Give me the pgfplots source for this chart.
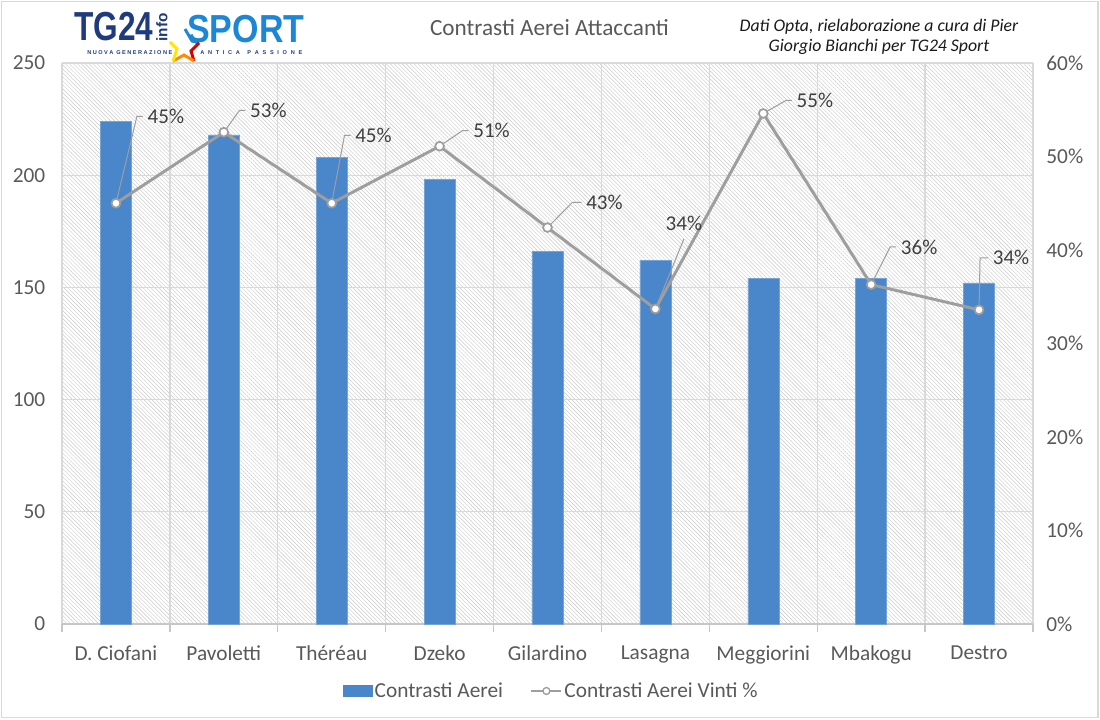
\documentclass[border=0pt]{standalone}
\usepackage{pgfplots}
\pgfplotsset{compat=1.18}
\usepackage{fontspec}
\setmainfont{Carlito}
\newfontfamily\logofont{Liberation Sans}
\usetikzlibrary{patterns.meta}
\definecolor{barblue}{HTML}{4A86CA}
\definecolor{linegray}{HTML}{9E9E9E}
\definecolor{gridgray}{HTML}{D9D9D9}
\definecolor{tickgray}{HTML}{595959}
\definecolor{labgray}{HTML}{404040}
\definecolor{hatchgray}{HTML}{C8C8C8}
\definecolor{navy}{HTML}{1F3B7E}
\definecolor{sportblue}{HTML}{1B87D6}
% pixel coordinates measured from the bottom-left corner (1px = 0.75pt)
\newcommand\px[2]{(#1*0.75pt,#2*0.75pt)}
\newcommand\dlab[6]{\draw[leader] (axis cs:#1,#2) -- ++(#3*0.75pt,#4*0.75pt) -- ++(#5*0.75pt,0pt) node[dlabel,anchor=west]{#6};}
\newcommand\spread[2]{\makebox[#1][s]{#2}}
\begin{document}
\begin{tikzpicture}[
  leader/.style={draw=linegray,line width=0.75pt},
  dlabel/.style={inner sep=0pt,xshift=3.2pt,text=labgray,font=\fontsize{15.8}{18}\selectfont}]
\path[use as bounding box] \px{0}{0} rectangle \px{1100}{719};
\draw[gridgray,line width=1.2pt] \px{1.5}{1.5} rectangle \px{1098}{717.5};
% ---------- bars axis ----------
\begin{axis}[
  name=main,
  at={(46.5pt,71.25pt)}, anchor=south west, scale only axis,
  width=728.25pt, height=420.75pt,
  xmin=-0.5, xmax=8.5, ymin=0, ymax=250,
  axis background/.style={fill=white,postaction={pattern={Lines[angle=-45,distance=2.1pt,line width=0.32pt]},pattern color=hatchgray}},
  axis x line*=bottom, axis y line*=left,
  x axis line style={draw=gridgray!80!gray,line width=1pt},
  y axis line style={draw=none},
  xtick={0,...,8},
  xticklabels={D. Ciofani,Pavoletti,Théréau,Dzeko,Gilardino,Lasagna,Meggiorini,Mbakogu,Destro},
  minor xtick={-0.5,0.5,...,8.5},
  ytick={0,50,...,250},
  xminorgrids, ymajorgrids,
  grid style={draw=gridgray,line width=1pt},
  minor grid style={draw=gridgray,line width=1pt},
  major tick length=0pt, minor tick length=6pt, tick align=outside,
  every minor tick/.style={draw=gridgray!80!gray,line width=1pt},
  ytick style={draw=none},
  /pgf/number format/assume math mode=true,
  tick label style={font=\fontsize{16}{19}\selectfont,text=tickgray},
  yticklabel style={xshift=-9pt},
  xticklabel style={yshift=-13pt},
]
\addplot[ybar,bar width=23.25pt,fill=barblue,draw=barblue!75!white,line width=0.4pt]
  coordinates {(0,224) (1,218) (2,208) (3,198) (4,166) (5,162) (6,154) (7,154) (8,152)};
\end{axis}
% ---------- percent axis ----------
\begin{axis}[
  at={(main.south west)}, anchor=south west, scale only axis,
  width=728.25pt, height=420.75pt,
  xmin=-0.5, xmax=8.5, ymin=0, ymax=60,
  axis x line=none, axis y line*=right,
  y axis line style={draw=none},
  xtick=\empty,
  ytick={0,10,...,60},
  ytick style={draw=none},
  major tick length=0pt,
  /pgf/number format/assume math mode=true,
  yticklabel={\pgfmathprintnumber{\tick}\%},
  tick label style={font=\fontsize{16}{19}\selectfont,text=tickgray},
  yticklabel style={xshift=6.5pt},
  clip=false,
  legend columns=2,
  legend style={at={(0.504,-0.1194)},anchor=center,draw=none,fill=none,
    font=\fontsize{16}{19}\selectfont,text=tickgray,
    /tikz/every even column/.append style={column sep=19pt},
    nodes={inner sep=1.5pt}},
]
\addlegendimage{legend image code/.code={\fill[barblue] (0pt,-4.1pt) rectangle (21.75pt,4.1pt);}}
\addlegendentry{Contrasti Aerei}
\addplot[linegray,line width=2.2pt,mark=*,mark size=3.3pt,
  mark options={fill=white,draw=linegray,line width=1.3pt},
  legend image code/.code={\draw[linegray,line width=1.5pt] (0pt,0pt) -- (22.5pt,0pt);
     \draw[linegray,fill=white,line width=1pt] (11.25pt,0pt) circle (2.6pt);}]
  coordinates {(0,45.0) (1,52.6) (2,45.0) (3,51.1) (4,42.4) (5,33.7) (6,54.6) (7,36.3) (8,33.6)};
\addlegendentry{Contrasti Aerei Vinti \%}
\dlab{0}{45.0}{21}{87}{6}{45\%}
\dlab{1}{52.6}{15.6}{21.7}{6}{53\%}
\dlab{2}{45.0}{12.8}{68}{6}{45\%}
\dlab{3}{51.1}{23}{15.7}{6}{51\%}
\dlab{4}{42.4}{25}{25.3}{9}{43\%}
\draw[leader] (axis cs:5,33.7) -- ++(28.5*0.75pt,70*0.75pt) node[dlabel,anchor=south,xshift=-3.2pt,yshift=6pt]{34\%};
\dlab{6}{54.6}{22.7}{13}{6}{55\%}
\dlab{7}{36.3}{19}{37.6}{6}{36\%}
\dlab{8}{33.6}{1}{52}{8}{34\%}
\end{axis}
% ---------- title and note ----------
\node[text=tickgray,font=\fontsize{17.4}{20}\selectfont] at \px{549.5}{691} {Contrasti Aerei Attaccanti};
\node[align=center,font=\fontsize{13.3}{15}\itshape\selectfont,text=black!90] at \px{879}{682} {Dati Opta, rielaborazione a cura di Pier\\Giorgio Bianchi per TG24 Sport};
% ---------- logo ----------
\node[anchor=west,inner sep=0pt,text=navy,font=\logofont\bfseries\fontsize{30.4}{32}\selectfont,xscale=0.78] at \px{74}{692} {TG24};
\node[inner sep=0pt,text=navy,font=\logofont\bfseries\fontsize{11.5}{12}\selectfont,rotate=90] at \px{162}{691.5} {info};
\node[anchor=west,inner sep=0pt,text=sportblue,font=\logofont\bfseries\fontsize{29.3}{31}\selectfont,xscale=0.87] at \px{187}{690} {SPORT};
\node[anchor=west,inner sep=0pt,text=navy,font=\logofont\bfseries\fontsize{4.2}{5}\selectfont] at \px{87}{666} {\spread{63.75pt}{N\hfill U\hfill O\hfill V\hfill A\hfill\hfill G\hfill E\hfill N\hfill E\hfill R\hfill A\hfill Z\hfill I\hfill O\hfill N\hfill E}};
\node[anchor=west,inner sep=0pt,text=navy,font=\logofont\bfseries\fontsize{4.2}{5}\selectfont] at \px{200}{666} {\spread{76.5pt}{A\hfill N\hfill T\hfill I\hfill C\hfill A\hfill\hfill P\hfill A\hfill S\hfill S\hfill I\hfill O\hfill N\hfill E}};
\draw[line width=2.2pt,sportblue] \px{185}{690} -- \px{192}{678} -- \px{199}{676};
\draw[line width=2.2pt,red!85!black] \px{199}{676} -- \px{191}{668} -- \px{194}{658};
\draw[line width=2.2pt,orange!90!yellow] \px{194}{658} -- \px{184}{664} -- \px{173}{658};
\draw[line width=2.2pt,yellow!90!orange] \px{173}{658} -- \px{177}{670} -- \px{170}{677};
\end{tikzpicture}
\end{document}
